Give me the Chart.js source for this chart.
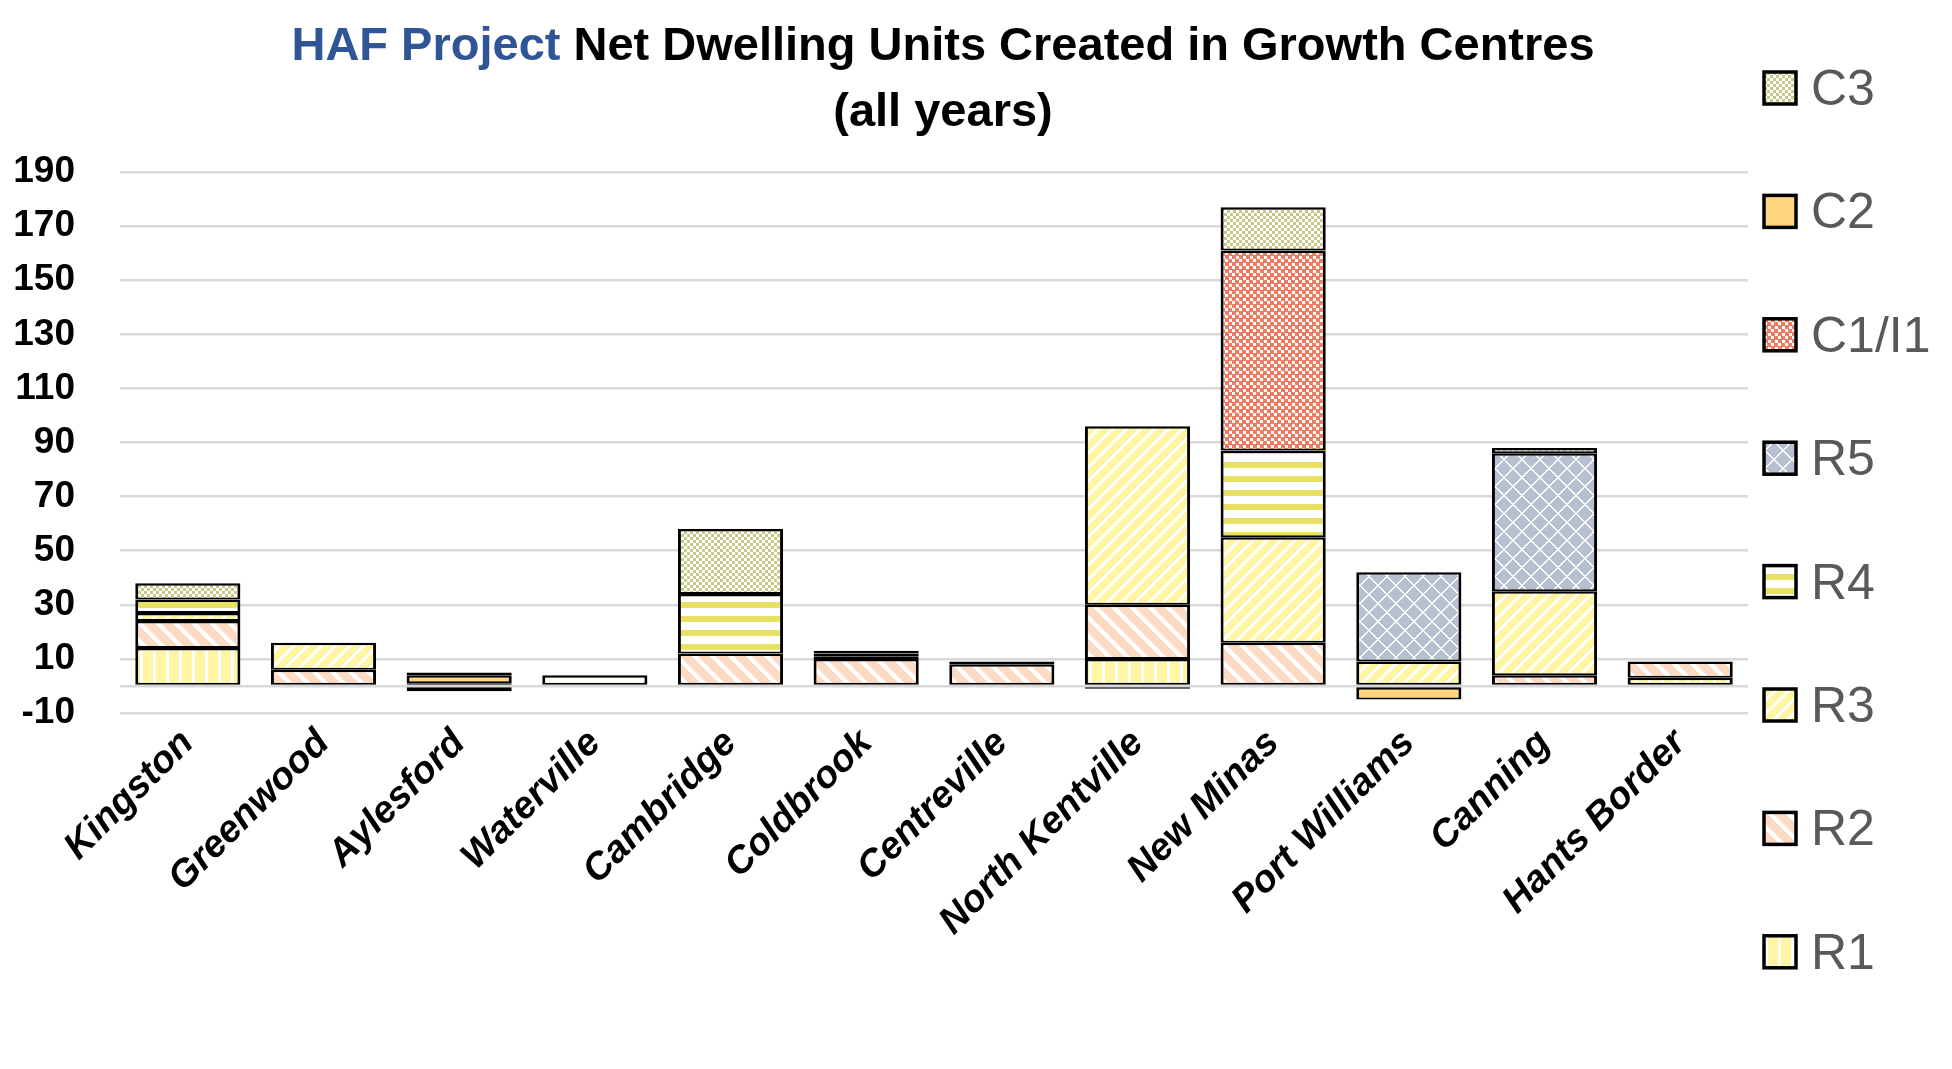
<!DOCTYPE html>
<html>
<head>
<meta charset="utf-8">
<script src="https://cdn.jsdelivr.net/npm/chart.js@4.4.1/dist/chart.umd.min.js"></script>
<style>
  html, body { margin: 0; padding: 0; background: #ffffff; }
  #wrap { position: relative; width: 1952px; height: 1069px; }
</style>
</head>
<body>
<div id="wrap"><canvas id="chart" width="1952" height="1069"></canvas></div>
<script>
// ---------------- data ----------------
const categories = ['Kingston', 'Greenwood', 'Aylesford', 'Waterville', 'Cambridge', 'Coldbrook',
  'Centreville', 'North Kentville', 'New Minas', 'Port Williams', 'Canning', 'Hants Border'];
const seriesNames = ['R1', 'R2', 'R3', 'R4', 'R5', 'C1/I1', 'C2', 'C3'];
const R1 = [14, 0, -2, 0, 0, 0, 0, 10, 0, 0, 0, 3];
const R2 = [10, 6, 1, 0, 12, 10, 8, 20, 16, 0, 4, 6];
const R3 = [3, 10, 0, 0, 0, 1, 0, 66, 39, 9, 31, 0];
const R4 = [5, 0, 0, 4, 22, 1, 1, 0, 32, 0, 0, 0];
const R5 = [0, 0, 0, 0, 0, 0, 0, 0, 0, 33, 51, 0];
const C1I1 = [0, 0, 0, 0, 0, 0, 0, 0, 74, 0, 0, 0];
const C2 = [0, 0, 3, 0, 0, 0, 0, -1, 0, -5, 0, 0];
const C3 = [6, 0, 1, 0, 24, 1, 0, 0, 16, 0, 2, 0];
const yTickLabels = [-10, 10, 30, 50, 70, 90, 110, 130, 150, 170, 190];
const axisLineValue = 0;
const titleBlue = 'HAF Project';
const titleRest = ' Net Dwelling Units Created in Growth Centres';
const titleLine2 = '(all years)';

const seriesValues = [R1, R2, R3, R4, R5, C1I1, C2, C3];

// ---------------- patterns ----------------
const canvas = document.getElementById('chart');
const mainCtx = canvas.getContext('2d');
function makePattern(w, h, paint) {
  const c = document.createElement('canvas');
  c.width = w; c.height = h;
  const g = c.getContext('2d');
  paint(g, w, h);
  return mainCtx.createPattern(c, 'repeat');
}
const patterns = [
  // R1 light vertical stripes
  makePattern(13, 4, (g, w, h) => { g.fillStyle = '#fff5a5'; g.fillRect(0, 0, w, h); g.fillStyle = '#ffffff'; g.fillRect(10, 0, 3, h); }),
  // R2 peach with "\" white diagonals
  makePattern(18, 18, (g, w, h) => { g.fillStyle = '#fcdac3'; g.fillRect(0, 0, w, h); g.fillStyle = '#ffffff';
    for (let y = 0; y < h; y++) for (let k = 0; k < 6; k++) g.fillRect((y + k) % w, y, 1, 1); }),
  // R3 yellow with "/" white diagonals
  makePattern(14, 14, (g, w, h) => { g.fillStyle = '#fff5a5'; g.fillRect(0, 0, w, h); g.fillStyle = '#ffffff';
    for (let y = 0; y < h; y++) for (let k = 0; k < 4; k++) g.fillRect((w - 1 - y + k + w) % w, y, 1, 1); }),
  // R4 horizontal yellow bands
  makePattern(4, 14, (g, w, h) => { g.fillStyle = '#ffffff'; g.fillRect(0, 0, w, h); g.fillStyle = '#e8e264'; g.fillRect(0, 0, w, 6); }),
  // R5 grey-blue diamonds
  makePattern(18, 18, (g, w, h) => { g.fillStyle = '#b8bfd1'; g.fillRect(0, 0, w, h); g.fillStyle = '#ffffff';
    for (let y = 0; y < h; y++) for (let k = 0; k < 2; k++) { g.fillRect((y + k) % w, y, 1, 1); g.fillRect((w - y + k + w) % w, y, 1, 1); } }),
  // C1/I1 red checks
  makePattern(7, 7, (g, w, h) => { g.fillStyle = '#f07d61'; g.fillRect(0, 0, w, h); g.fillStyle = '#ffffff'; g.fillRect(0, 0, 3, 3); g.fillRect(4, 4, 3, 3); }),
  // C2 solid light orange
  '#ffd580',
  // C3 olive checks
  makePattern(6, 6, (g, w, h) => { g.fillStyle = '#c8c888'; g.fillRect(0, 0, w, h); g.fillStyle = '#ffffff'; g.fillRect(0, 0, 3, 3); g.fillRect(3, 3, 3, 3); })
];

const datasets = seriesNames.map((name, i) => ({
  label: name,
  data: seriesValues[i].map(v => (v === 0 ? null : v)),
  backgroundColor: patterns[i],
  borderColor: '#000000',
  borderWidth: { top: 2.5, bottom: 2, left: 3, right: 3 },
  borderSkipped: false,
  barPercentage: 0.775,
  categoryPercentage: 1.0
}));

// ---------------- title + legend plugin ----------------
const decorPlugin = {
  id: 'decor',
  afterDraw(chart) {
    const ctx = chart.ctx;
    ctx.save();
    // title
    ctx.font = 'bold 47px "Liberation Sans", Arial, sans-serif';
    ctx.textBaseline = 'alphabetic';
    ctx.textAlign = 'left';
    const wBlue = ctx.measureText(titleBlue).width;
    const wRest = ctx.measureText(titleRest).width;
    const cx = 943;
    const x0 = cx - (wBlue + wRest) / 2;
    ctx.fillStyle = '#2f5597';
    ctx.fillText(titleBlue, x0, 60);
    ctx.fillStyle = '#000000';
    ctx.fillText(titleRest, x0 + wBlue, 60);
    ctx.textAlign = 'center';
    ctx.fillText(titleLine2, cx, 126);

    // legend (reverse order, top = last series)
    const items = chart.data.datasets.map((d, i) => ({ d, i })).reverse();
    ctx.font = '50px "Liberation Sans", Arial, sans-serif';
    ctx.textAlign = 'left';
    items.forEach((it, k) => {
      const yc = 88 + k * 123.4;
      ctx.fillStyle = it.d.backgroundColor;
      ctx.fillRect(1764, yc - 16, 32, 32);
      ctx.lineWidth = 3.5;
      ctx.strokeStyle = '#000000';
      ctx.strokeRect(1764, yc - 16, 32, 32);
      ctx.fillStyle = '#595959';
      ctx.fillText(it.d.label, 1811, yc + 17);
    });
    ctx.restore();
  }
};

// ---------------- chart ----------------
new Chart(canvas, {
  type: 'bar',
  data: { labels: categories, datasets },
  options: {
    responsive: false,
    animation: false,
    devicePixelRatio: 1,
    layout: { padding: { top: 172, left: 12, right: 204, bottom: 0 } },
    plugins: {
      legend: { display: false },
      title: { display: false },
      tooltip: { enabled: false }
    },
    scales: {
      x: {
        stacked: true,
        grid: { display: false },
        border: { display: false },
        ticks: {
          color: '#000000',
          font: { family: '"Liberation Sans", Arial, sans-serif', size: 38, weight: 'bold', style: 'italic' },
          maxRotation: 45, minRotation: 45, autoSkip: false, padding: 0
        },
        afterFit(scale) { scale.height = 356; }
      },
      y: {
        stacked: true,
        min: -10, max: 190,
        grid: { color: '#d9d9d9', lineWidth: 2.5, drawTicks: false },
        border: { display: false },
        ticks: {
          color: '#000000',
          font: { family: '"Liberation Sans", Arial, sans-serif', size: 37, weight: 'bold' },
          padding: 45, autoSkip: false,
          callback(v) { return yTickLabels.includes(v) ? String(v) : ''; }
        },
        afterBuildTicks(scale) {
          scale.ticks = [...yTickLabels, axisLineValue].sort((a, b) => a - b).map(v => ({ value: v }));
        },
        afterFit(scale) { scale.width = 108; }
      }
    }
  },
  plugins: [decorPlugin]
});
</script>
</body>
</html>
